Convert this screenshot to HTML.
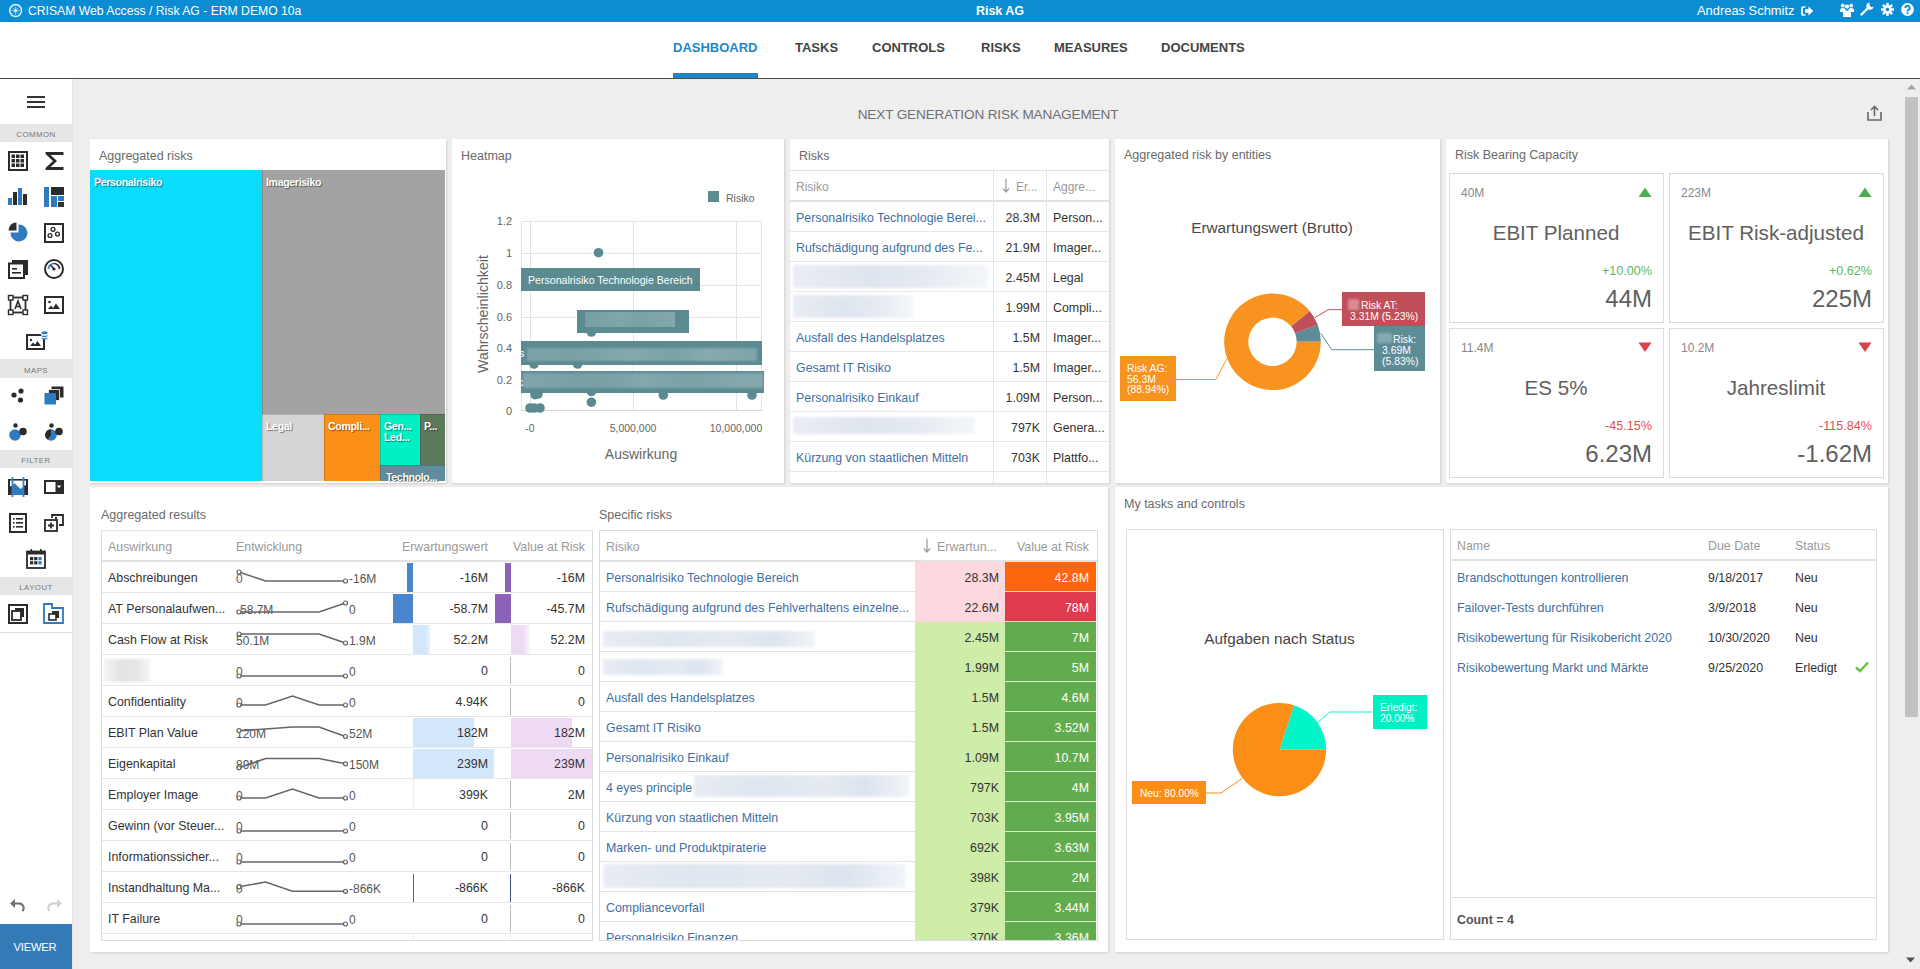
<!DOCTYPE html>
<html><head><meta charset="utf-8"><title>CRISAM Dashboard</title>
<style>
*{box-sizing:border-box;margin:0;padding:0}
html,body{width:1920px;height:969px;overflow:hidden;background:#eeeeee;font-family:"Liberation Sans",sans-serif;color:#333}
.a{position:absolute}
.t{position:absolute;white-space:nowrap;line-height:1}
svg{position:absolute;overflow:visible}
</style></head><body>
<div class="a" style="left:0px;top:0px;width:1920px;height:22px;background:#0b8cd3;"></div><svg style="left:8px;top:3px" width="15" height="15" viewBox="0 0 15 15"><circle cx="7.6" cy="7.5" r="5.9" fill="none" stroke="#e6f8ff" stroke-width="1.5"/><g stroke="#8fd6f2" stroke-width="0.9"><line x1="7.6" y1="3.2" x2="7.6" y2="11.8"/><line x1="3.3" y1="7.5" x2="11.9" y2="7.5"/><line x1="4.6" y1="4.5" x2="10.6" y2="10.5"/><line x1="10.6" y1="4.5" x2="4.6" y2="10.5"/></g><circle cx="7.6" cy="7.5" r="1.5" fill="#e6f8ff"/></svg><div class="t" style="left:28px;top:5.3px;font-size:12.2px;color:#fff;">CRISAM Web Access / Risk AG - ERM DEMO 10a</div><div class="t" style="left:500px;width:1000px;text-align:center;top:5.2px;font-size:12.5px;color:#fff;font-weight:bold;">Risk AG</div><div class="t" style="left:1697px;top:5.0px;font-size:12.9px;color:#fff;">Andreas Schmitz</div><svg style="left:1801px;top:6px" width="13" height="10" viewBox="0 0 13 10"><path d="M4.5 1H2A1 1 0 0 0 1 2V8A1 1 0 0 0 2 9H4.5" fill="none" stroke="#fff" stroke-width="1.7"/><path d="M4 3.3H7.5V0.5L12.3 5L7.5 9.5V6.7H4Z" fill="#fff"/></svg><svg style="left:1840px;top:3px" width="14" height="14" viewBox="0 0 14 14" fill="#fff"><circle cx="2.8" cy="2.6" r="1.9"/><circle cx="11.2" cy="2.6" r="1.9"/><circle cx="7" cy="3.6" r="2.1"/><path d="M0 7.5a2.8 2.5 0 0 1 5.6 0v1.5H0z"/><path d="M8.4 7.5a2.8 2.5 0 0 1 5.6 0v1.5H8.4z"/><path d="M3 10.5a4 3 0 0 1 8 0V14H3z"/></svg><svg style="left:1860px;top:1px" width="15" height="15" viewBox="0 0 15 15"><path d="M1.5 13.5L8.5 6.5" stroke="#fff" stroke-width="2.4" stroke-linecap="round"/><path d="M9.5 1.5a3.6 3.6 0 1 0 4 4l-2 0.8-1.6-1.2-0.4-2z" fill="#fff"/></svg><svg style="left:1881px;top:3px" width="13" height="13" viewBox="0 0 13 13" fill="#fff"><rect x="5.3" y="0" width="2.4" height="3.2" transform="rotate(0 6.5 6.5)"/><rect x="5.3" y="0" width="2.4" height="3.2" transform="rotate(45 6.5 6.5)"/><rect x="5.3" y="0" width="2.4" height="3.2" transform="rotate(90 6.5 6.5)"/><rect x="5.3" y="0" width="2.4" height="3.2" transform="rotate(135 6.5 6.5)"/><rect x="5.3" y="0" width="2.4" height="3.2" transform="rotate(180 6.5 6.5)"/><rect x="5.3" y="0" width="2.4" height="3.2" transform="rotate(225 6.5 6.5)"/><rect x="5.3" y="0" width="2.4" height="3.2" transform="rotate(270 6.5 6.5)"/><rect x="5.3" y="0" width="2.4" height="3.2" transform="rotate(315 6.5 6.5)"/><circle cx="6.5" cy="6.5" r="4.4"/><circle cx="6.5" cy="6.5" r="1.7" fill="#0b8cd3"/></svg><svg style="left:1901px;top:3px" width="13" height="13" viewBox="0 0 13 13"><circle cx="6.5" cy="6.5" r="6.4" fill="#fff"/><path d="M4.3 5a2.2 2.2 0 1 1 3 2c-0.6 0.3-0.8 0.6-0.8 1.2v0.3" fill="none" stroke="#0b8cd3" stroke-width="1.8"/><rect x="5.6" y="9.3" width="1.8" height="1.8" fill="#0b8cd3"/></svg><div class="a" style="left:0px;top:22px;width:1920px;height:56px;background:#fff;"></div><div class="a" style="left:0px;top:78px;width:1920px;height:1px;background:#4a4a4a;"></div><div class="t" style="left:673px;top:41.4px;font-size:13px;color:#1b87c9;font-weight:bold;">DASHBOARD</div><div class="t" style="left:795px;top:41.4px;font-size:13px;color:#444;font-weight:bold;">TASKS</div><div class="t" style="left:872px;top:41.4px;font-size:13px;color:#444;font-weight:bold;">CONTROLS</div><div class="t" style="left:981px;top:41.4px;font-size:13px;color:#444;font-weight:bold;">RISKS</div><div class="t" style="left:1054px;top:41.4px;font-size:13px;color:#444;font-weight:bold;">MEASURES</div><div class="t" style="left:1161px;top:41.4px;font-size:13px;color:#444;font-weight:bold;">DOCUMENTS</div><div class="a" style="left:673px;top:73px;width:85px;height:5px;background:#1b87c9;"></div><div class="t" style="left:488px;width:1000px;text-align:center;top:108.4px;font-size:13.6px;color:#707070;letter-spacing:-0.15px;">NEXT GENERATION RISK MANAGEMENT</div><svg style="left:1866px;top:104px" width="18" height="18" viewBox="0 0 18 18"><path d="M2 8V16H15V8" fill="none" stroke="#666" stroke-width="1.6"/><path d="M8.5 12V3" stroke="#666" stroke-width="1.6"/><path d="M5 6L8.5 2.5L12 6" fill="none" stroke="#666" stroke-width="1.6"/></svg><div class="a" style="left:1905px;top:79px;width:15px;height:890px;background:#eeeeee;"></div><div class="a" style="left:1905px;top:97px;width:13px;height:620px;background:#c1c1c1;"></div><svg style="left:1907px;top:84px" width="9" height="6" viewBox="0 0 9 6"><path d="M0 5.5L4.5 0.5L9 5.5Z" fill="#a3a3a3"/></svg><svg style="left:1906px;top:957px" width="9" height="6" viewBox="0 0 9 6"><path d="M0 0.5L4.5 5.5L9 0.5Z" fill="#505050"/></svg><div class="a" style="left:0px;top:79px;width:72px;height:890px;background:#fff;"></div><div class="a" style="left:72px;top:79px;width:1px;height:890px;background:#e4e4e4;"></div><div class="a" style="left:27px;top:95.5px;width:18px;height:2px;background:#333;"></div><div class="a" style="left:27px;top:100.5px;width:18px;height:2px;background:#333;"></div><div class="a" style="left:27px;top:105.5px;width:18px;height:2px;background:#333;"></div><div class="a" style="left:0px;top:124px;width:72px;height:18px;background:#e6e6e6;"></div><div class="t" style="left:-464px;width:1000px;text-align:center;top:131.0px;font-size:7.8px;color:#777;letter-spacing:0.5px;">COMMON</div><div class="a" style="left:0px;top:359px;width:72px;height:19px;background:#e6e6e6;"></div><div class="t" style="left:-464px;width:1000px;text-align:center;top:366.5px;font-size:7.8px;color:#777;letter-spacing:0.5px;">MAPS</div><div class="a" style="left:0px;top:450px;width:72px;height:18px;background:#e6e6e6;"></div><div class="t" style="left:-464px;width:1000px;text-align:center;top:457.0px;font-size:7.8px;color:#777;letter-spacing:0.5px;">FILTER</div><div class="a" style="left:0px;top:577px;width:72px;height:18px;background:#e6e6e6;"></div><div class="t" style="left:-464px;width:1000px;text-align:center;top:584.0px;font-size:7.8px;color:#777;letter-spacing:0.5px;">LAYOUT</div><svg style="left:8px;top:151px" width="20" height="20" viewBox="0 0 20 20"><rect x="1" y="1" width="18" height="18" fill="none" stroke="#2b2b2b" stroke-width="2"/><rect x="3.5" y="3.5" width="3.5" height="3.5" fill="#2b2b2b"/><rect x="3.5" y="8.0" width="3.5" height="3.5" fill="#2b2b2b"/><rect x="3.5" y="12.5" width="3.5" height="3.5" fill="#2b2b2b"/><rect x="8.0" y="3.5" width="3.5" height="3.5" fill="#2b2b2b"/><rect x="8.0" y="8.0" width="3.5" height="3.5" fill="#2b2b2b"/><rect x="8.0" y="12.5" width="3.5" height="3.5" fill="#2b2b2b"/><rect x="12.5" y="3.5" width="3.5" height="3.5" fill="#2b2b2b"/><rect x="12.5" y="8.0" width="3.5" height="3.5" fill="#2b2b2b"/><rect x="12.5" y="12.5" width="3.5" height="3.5" fill="#2b2b2b"/></svg><svg style="left:44px;top:151px" width="20" height="20" viewBox="0 0 20 20"><path d="M1.5 1H19.5V4H6.5L13 10L6.5 16H19.5V19H1.5V17L9 10L1.5 3Z" fill="#2b2b2b"/></svg><svg style="left:8px;top:188px" width="20" height="17" viewBox="0 0 20 17"><rect x="0" y="10" width="4" height="7" fill="#2f7bbf"/><rect x="5" y="4" width="4" height="13" fill="#2b2b2b"/><rect x="10" y="0" width="4" height="17" fill="#2f7bbf"/><rect x="15" y="6" width="4" height="11" fill="#2b2b2b"/></svg><svg style="left:44px;top:187px" width="20" height="20" viewBox="0 0 20 20"><rect x="0" y="0" width="5" height="20" fill="#2f7bbf"/><rect x="7" y="0" width="13" height="8" fill="#2b2b2b"/><rect x="7" y="9" width="6" height="11" fill="#2f7bbf"/><rect x="14" y="9" width="6" height="5" fill="#2f7bbf"/><rect x="14" y="15" width="6" height="5" fill="#333"/></svg><svg style="left:8px;top:222px" width="21" height="21" viewBox="0 0 21 21"><path d="M10.5 2.5A8.5 8.5 0 1 1 2.5 10.5H10.5Z" fill="#2f7bbf"/><path d="M8.5 0.5V8.5H0.5A8 8 0 0 1 8.5 0.5Z" fill="#2b2b2b"/></svg><svg style="left:44px;top:223px" width="20" height="20" viewBox="0 0 20 20"><rect x="1" y="1" width="18" height="18" fill="none" stroke="#2b2b2b" stroke-width="2"/><circle cx="9" cy="6.3" r="1.9" fill="none" stroke="#2b2b2b" stroke-width="1.4"/><circle cx="6" cy="12.5" r="1.9" fill="none" stroke="#2b2b2b" stroke-width="1.4"/><circle cx="13.5" cy="11" r="1.9" fill="none" stroke="#2b2b2b" stroke-width="1.4"/></svg><svg style="left:8px;top:260px" width="20" height="19" viewBox="0 0 20 19"><rect x="4" y="0" width="16" height="15" fill="#2b2b2b"/><rect x="1" y="3.5" width="15" height="14.5" fill="#fff" stroke="#2b2b2b" stroke-width="2"/><rect x="4" y="8" width="5" height="1.6" fill="#2b2b2b"/><rect x="4" y="12" width="9" height="1.6" fill="#2b2b2b"/></svg><svg style="left:44px;top:259px" width="20" height="20" viewBox="0 0 20 20"><circle cx="10" cy="10" r="9" fill="none" stroke="#2b2b2b" stroke-width="2"/><path d="M4.5 10A5.5 5.5 0 0 1 10 4.5" fill="none" stroke="#2f7bbf" stroke-width="1.6"/><path d="M10 4.5A5.5 5.5 0 0 1 15.5 10" fill="none" stroke="#2b2b2b" stroke-width="1.6"/><line x1="6.5" y1="6" x2="10" y2="10" stroke="#2b2b2b" stroke-width="1.5"/><circle cx="10" cy="10" r="1.6" fill="#2b2b2b"/></svg><svg style="left:8px;top:295px" width="20" height="20" viewBox="0 0 20 20"><rect x="2.5" y="2.5" width="15" height="15" fill="none" stroke="#2b2b2b" stroke-width="1.8"/><rect x="0.5" y="0.5" width="4.5" height="4.5" fill="#fff" stroke="#2b2b2b" stroke-width="1.4"/><rect x="15" y="0.5" width="4.5" height="4.5" fill="#fff" stroke="#2b2b2b" stroke-width="1.4"/><rect x="0.5" y="15" width="4.5" height="4.5" fill="#fff" stroke="#2b2b2b" stroke-width="1.4"/><rect x="15" y="15" width="4.5" height="4.5" fill="#fff" stroke="#2b2b2b" stroke-width="1.4"/><path d="M7 14L10 6L13 14M8 11.5H12" fill="none" stroke="#2b2b2b" stroke-width="1.6"/></svg><svg style="left:44px;top:296px" width="20" height="18" viewBox="0 0 20 18"><rect x="1" y="1" width="18" height="16" fill="none" stroke="#2b2b2b" stroke-width="2"/><circle cx="5.5" cy="6" r="1.3" fill="#2b2b2b"/><path d="M4 13L7 9.5L9 12L12 7.5L16 13Z" fill="#2b2b2b"/></svg><svg style="left:26px;top:331px" width="22" height="19" viewBox="0 0 22 19"><rect x="1" y="4" width="17" height="14" fill="none" stroke="#2b2b2b" stroke-width="2"/><rect x="15" y="2" width="7" height="6" fill="#fff"/><circle cx="5" cy="9" r="1.2" fill="#2b2b2b"/><path d="M4 15L7 11.5L9 13.5L11.5 10L15 15Z" fill="#2b2b2b"/><ellipse cx="18.5" cy="1.8" rx="3" ry="1.5" fill="#2f7bbf"/><path d="M15.5 3.2V4.5A3 1.5 0 0 0 21.5 4.5V3.2A3 1.5 0 0 1 15.5 3.2Z" fill="#2f7bbf"/><path d="M15.5 5.7V7A3 1.5 0 0 0 21.5 7V5.7A3 1.5 0 0 1 15.5 5.7Z" fill="#2f7bbf"/></svg><svg style="left:11px;top:388px" width="14" height="15" viewBox="0 0 14 15"><circle cx="3" cy="7" r="2.6" fill="#2b2b2b"/><circle cx="10" cy="3" r="2.6" fill="#2b2b2b"/><circle cx="9.5" cy="12" r="2.6" fill="#2b2b2b"/></svg><svg style="left:44px;top:386px" width="20" height="19" viewBox="0 0 20 19"><rect x="7.5" y="0.5" width="12" height="11" fill="#2b2b2b"/><rect x="4.5" y="3.5" width="11" height="11" fill="#2b2b2b" stroke="#fff" stroke-width="0.8"/><rect x="0.5" y="7" width="11.5" height="11.5" fill="#2f7bbf"/></svg><svg style="left:8px;top:423px" width="20" height="18" viewBox="0 0 20 18"><circle cx="7" cy="12" r="5.8" fill="#2f7bbf"/><circle cx="7.5" cy="2.5" r="2.2" fill="#2b2b2b"/><circle cx="15" cy="8.5" r="3.8" fill="#2b2b2b"/></svg><svg style="left:44px;top:423px" width="20" height="18" viewBox="0 0 20 18"><circle cx="7" cy="12" r="5.8" fill="#2f7bbf"/><path d="M7 12L7 6.2A5.8 5.8 0 0 0 3.5 16.6Z" fill="#2b2b2b"/><circle cx="7.5" cy="2.5" r="2.2" fill="#2b2b2b"/><circle cx="15" cy="8.5" r="3.8" fill="#2b2b2b"/></svg><svg style="left:8px;top:477px" width="20" height="20" viewBox="0 0 20 20"><rect x="0" y="2" width="20" height="16" fill="#2b2b2b"/><rect x="2" y="3.6" width="16" height="12.5" fill="#fff"/><path d="M2 9.5L4.5 8.5V16H2Z" fill="#2b2b2b"/><path d="M15.5 9L18 8V16H15.5Z" fill="#2b2b2b"/><path d="M4.5 7L7 6.5L12.5 12L15.5 9.5V18H4.5Z" fill="#2f7bbf"/><rect x="3.6" y="0" width="1.8" height="20" fill="#3a7fc0"/><rect x="14.6" y="0" width="1.8" height="20" fill="#3a7fc0"/></svg><svg style="left:44px;top:480px" width="20" height="14" viewBox="0 0 20 14"><rect x="1" y="1" width="18" height="12" fill="#fff" stroke="#2b2b2b" stroke-width="2"/><rect x="11.5" y="2" width="7" height="10" fill="#2b2b2b"/><path d="M12.8 5.5H17.2L15 8.3Z" fill="#fff"/></svg><div class="a" style="left:0px;top:632px;width:72px;height:1px;background:#dddddd;"></div><svg style="left:9px;top:513px" width="19" height="20" viewBox="0 0 19 20"><rect x="1" y="1" width="16" height="18" fill="none" stroke="#2b2b2b" stroke-width="2"/><rect x="4" y="5" width="1.6" height="1.6" fill="#2b2b2b"/><rect x="7" y="5" width="7" height="1.6" fill="#2b2b2b"/><rect x="4" y="9" width="1.6" height="1.6" fill="#2b2b2b"/><rect x="7" y="9" width="7" height="1.6" fill="#2b2b2b"/><rect x="4" y="13" width="1.6" height="1.6" fill="#2b2b2b"/><rect x="7" y="13" width="7" height="1.6" fill="#2b2b2b"/></svg><svg style="left:44px;top:514px" width="20" height="18" viewBox="0 0 20 18"><path d="M8 4V1H19V11H15" fill="none" stroke="#2b2b2b" stroke-width="1.8"/><rect x="11" y="3" width="2" height="2" fill="#2b2b2b"/><rect x="1" y="6" width="12" height="11" fill="#fff" stroke="#2b2b2b" stroke-width="1.8"/><path d="M7 8.5V14.5M4 11.5H10" stroke="#2b2b2b" stroke-width="1.8"/></svg><svg style="left:26px;top:549px" width="20" height="20" viewBox="0 0 20 20"><rect x="1" y="2.5" width="18" height="16.5" fill="none" stroke="#2b2b2b" stroke-width="1.8"/><rect x="1" y="2.5" width="18" height="3" fill="#2b2b2b"/><rect x="4.5" y="0" width="1.6" height="4" fill="#2b2b2b"/><rect x="14" y="0" width="1.6" height="4" fill="#2b2b2b"/><rect x="4.0" y="8.0" width="3.2" height="3.2" fill="#2b2b2b"/><rect x="4.0" y="12.2" width="3.2" height="3.2" fill="#2b2b2b"/><rect x="8.2" y="8.0" width="3.2" height="3.2" fill="#2b2b2b"/><rect x="8.2" y="12.2" width="3.2" height="3.2" fill="#2b2b2b"/><rect x="12.4" y="8.0" width="3.2" height="3.2" fill="#2f7bbf"/><rect x="12.4" y="12.2" width="3.2" height="3.2" fill="#2f7bbf"/></svg><svg style="left:8px;top:604px" width="20" height="20" viewBox="0 0 20 20"><rect x="1" y="1" width="18" height="18" fill="none" stroke="#2b2b2b" stroke-width="2"/><rect x="7" y="4" width="9" height="9" fill="#2b2b2b"/><rect x="4" y="7" width="9" height="9" fill="#fff" stroke="#2b2b2b" stroke-width="1.8"/></svg><svg style="left:43px;top:603px" width="21" height="21" viewBox="0 0 21 21"><path d="M1 1H9V5H20V20H1Z" fill="none" stroke="#2f7bbf" stroke-width="1.8"/><rect x="9" y="8" width="7" height="7" fill="#2b2b2b"/><rect x="6" y="11" width="7" height="6" fill="#fff" stroke="#2b2b2b" stroke-width="1.6"/></svg><svg style="left:10px;top:898px" width="16" height="14" viewBox="0 0 16 14"><path d="M4 5.5H9.5A4.5 4.5 0 0 1 12.5 13" fill="none" stroke="#6f6f6f" stroke-width="2"/><path d="M0 5.5L5 1V10Z" fill="#6f6f6f"/></svg><svg style="left:46px;top:898px" width="16" height="14" viewBox="0 0 16 14"><path d="M12 5.5H6.5A4.5 4.5 0 0 0 3.5 13" fill="none" stroke="#d0d0d0" stroke-width="2"/><path d="M16 5.5L11 1V10Z" fill="#d0d0d0"/></svg><div class="a" style="left:0px;top:924px;width:72px;height:45px;background:#337ab7;"></div><div class="t" style="left:-465px;width:1000px;text-align:center;top:942.3px;font-size:11.2px;color:#fff;letter-spacing:-0.2px;">VIEWER</div><div class="a" style="left:90px;top:139px;width:356px;height:344px;background:#fff;box-shadow:1px 1px 2px rgba(0,0,0,0.13)"></div><div class="a" style="left:452px;top:139px;width:332px;height:344px;background:#fff;box-shadow:1px 1px 2px rgba(0,0,0,0.13)"></div><div class="a" style="left:790px;top:139px;width:319px;height:344px;background:#fff;box-shadow:1px 1px 2px rgba(0,0,0,0.13)"></div><div class="a" style="left:1115px;top:139px;width:325px;height:344px;background:#fff;box-shadow:1px 1px 2px rgba(0,0,0,0.13)"></div><div class="a" style="left:1446px;top:139px;width:442px;height:344px;background:#fff;box-shadow:1px 1px 2px rgba(0,0,0,0.13)"></div><div class="a" style="left:90px;top:487px;width:1018px;height:465px;background:#fff;box-shadow:1px 1px 2px rgba(0,0,0,0.13)"></div><div class="a" style="left:1115px;top:487px;width:773px;height:465px;background:#fff;box-shadow:1px 1px 2px rgba(0,0,0,0.13)"></div><div class="t" style="left:99px;top:149.7px;font-size:12.5px;color:#6a6a6a;">Aggregated risks</div><div class="t" style="left:461px;top:149.7px;font-size:12.5px;color:#6a6a6a;">Heatmap</div><div class="t" style="left:799px;top:149.7px;font-size:12.5px;color:#6a6a6a;">Risks</div><div class="t" style="left:1124px;top:148.7px;font-size:12.5px;color:#6a6a6a;">Aggregated risk by entities</div><div class="t" style="left:1455px;top:148.7px;font-size:12.5px;color:#6a6a6a;">Risk Bearing Capacity</div><div class="t" style="left:101px;top:508.7px;font-size:12.5px;color:#6a6a6a;">Aggregated results</div><div class="t" style="left:599px;top:508.7px;font-size:12.5px;color:#6a6a6a;">Specific risks</div><div class="t" style="left:1124px;top:497.7px;font-size:12.5px;color:#6a6a6a;">My tasks and controls</div><div class="a" style="left:90px;top:170px;width:172px;height:311px;background:#0cdcfb;"></div><div class="a" style="left:262px;top:170px;width:183px;height:244px;background:#a3a3a3;"></div><div class="a" style="left:262px;top:414px;width:62px;height:67px;background:#d5d5d5;"></div><div class="a" style="left:324px;top:414px;width:56px;height:67px;background:#fb8f17;"></div><div class="a" style="left:380px;top:414px;width:40px;height:51px;background:#00f0c6;"></div><div class="a" style="left:420px;top:414px;width:25px;height:51px;background:#5b7a5c;"></div><div class="a" style="left:380px;top:465px;width:65px;height:16px;background:#5f8d9c;"></div><div class="a" style="left:445px;top:170px;width:1px;height:311px;background:#fff;"></div><div class="a" style="left:262px;top:170px;width:1px;height:311px;background:rgba(0,0,0,0.16);"></div><div class="a" style="left:262px;top:414px;width:183px;height:1px;background:rgba(0,0,0,0.16);"></div><div class="a" style="left:324px;top:414px;width:1px;height:67px;background:rgba(0,0,0,0.16);"></div><div class="a" style="left:380px;top:414px;width:1px;height:67px;background:rgba(0,0,0,0.16);"></div><div class="a" style="left:420px;top:414px;width:1px;height:51px;background:rgba(0,0,0,0.16);"></div><div class="a" style="left:380px;top:465px;width:65px;height:1px;background:rgba(0,0,0,0.16);"></div><div class="t" style="left:94px;top:176.9px;font-size:10.5px;color:#fff;font-weight:bold;text-shadow:1px 1px 1px rgba(0,0,0,0.45);letter-spacing:-0.3px;">Personalrisiko</div><div class="t" style="left:266px;top:176.9px;font-size:10.5px;color:#fff;font-weight:bold;text-shadow:1px 1px 1px rgba(0,0,0,0.45);letter-spacing:-0.3px;">Imagerisiko</div><div class="t" style="left:266px;top:420.9px;font-size:10.5px;color:#fff;font-weight:bold;text-shadow:1px 1px 1px rgba(0,0,0,0.45);letter-spacing:-0.3px;">Legal</div><div class="t" style="left:328px;top:420.9px;font-size:10.5px;color:#fff;font-weight:bold;text-shadow:1px 1px 1px rgba(0,0,0,0.45);letter-spacing:-0.3px;">Compli...</div><div class="t" style="left:384px;top:420.9px;font-size:10.5px;color:#fff;font-weight:bold;text-shadow:1px 1px 1px rgba(0,0,0,0.45);letter-spacing:-0.3px;">Gen...</div><div class="t" style="left:384px;top:431.9px;font-size:10.5px;color:#fff;font-weight:bold;text-shadow:1px 1px 1px rgba(0,0,0,0.45);letter-spacing:-0.3px;">Led...</div><div class="t" style="left:424px;top:420.9px;font-size:10.5px;color:#fff;font-weight:bold;text-shadow:1px 1px 1px rgba(0,0,0,0.45);letter-spacing:-0.3px;">P...</div><div class="t" style="left:386px;top:471.9px;font-size:10.5px;color:#fff;font-weight:bold;text-shadow:1px 1px 1px rgba(0,0,0,0.45);letter-spacing:-0.3px;">Technolo...</div><div class="a" style="left:708px;top:191px;width:11px;height:11px;background:#5d8c8f;"></div><div class="t" style="left:726px;top:192.7px;font-size:10.5px;color:#666;">Risiko</div><div class="a" style="left:521px;top:221px;width:241px;height:1px;background:#e3e3e3;"></div><div class="a" style="left:521px;top:253px;width:241px;height:1px;background:#e3e3e3;"></div><div class="a" style="left:521px;top:285px;width:241px;height:1px;background:#e3e3e3;"></div><div class="a" style="left:521px;top:317px;width:241px;height:1px;background:#e3e3e3;"></div><div class="a" style="left:521px;top:348px;width:241px;height:1px;background:#e3e3e3;"></div><div class="a" style="left:521px;top:380px;width:241px;height:1px;background:#e3e3e3;"></div><div class="a" style="left:521px;top:221px;width:1px;height:190px;background:#e3e3e3;"></div><div class="a" style="left:530px;top:221px;width:1px;height:190px;background:#e3e3e3;"></div><div class="a" style="left:633px;top:221px;width:1px;height:190px;background:#e3e3e3;"></div><div class="a" style="left:736px;top:221px;width:1px;height:190px;background:#e3e3e3;"></div><div class="a" style="left:761px;top:221px;width:1px;height:190px;background:#e3e3e3;"></div><div class="a" style="left:521px;top:410px;width:241px;height:1px;background:#d6d6d6;"></div><div class="t" style="left:-488px;width:1000px;text-align:right;top:216.4px;font-size:11px;color:#666;">1.2</div><div class="t" style="left:-488px;width:1000px;text-align:right;top:248.4px;font-size:11px;color:#666;">1</div><div class="t" style="left:-488px;width:1000px;text-align:right;top:280.4px;font-size:11px;color:#666;">0.8</div><div class="t" style="left:-488px;width:1000px;text-align:right;top:312.4px;font-size:11px;color:#666;">0.6</div><div class="t" style="left:-488px;width:1000px;text-align:right;top:343.4px;font-size:11px;color:#666;">0.4</div><div class="t" style="left:-488px;width:1000px;text-align:right;top:375.4px;font-size:11px;color:#666;">0.2</div><div class="t" style="left:-488px;width:1000px;text-align:right;top:406.4px;font-size:11px;color:#666;">0</div><div class="t" style="left:30px;width:1000px;text-align:center;top:422.5px;font-size:10.5px;color:#666;">-0</div><div class="t" style="left:133px;width:1000px;text-align:center;top:422.5px;font-size:10.5px;color:#666;">5,000,000</div><div class="t" style="left:236px;width:1000px;text-align:center;top:422.5px;font-size:10.5px;color:#666;">10,000,000</div><div class="t" style="left:141px;width:1000px;text-align:center;top:446.9px;font-size:14px;color:#666;">Auswirkung</div><div class="t" style="left:383px;top:307px;width:200px;text-align:center;font-size:14.2px;color:#666;transform:rotate(-90deg);transform-origin:100px 7px">Wahrscheinlichkeit</div><svg style="left:0;top:0" width="1920" height="969"><circle cx="598.5" cy="252.7" r="4.8" fill="#5b8a91"/><circle cx="591.4" cy="332" r="4.8" fill="#5b8a91"/><circle cx="534" cy="364" r="4.8" fill="#5b8a91"/><circle cx="577.6" cy="364" r="4.8" fill="#5b8a91"/><circle cx="535" cy="394.6" r="4.8" fill="#5b8a91"/><circle cx="538" cy="394" r="4.8" fill="#5b8a91"/><circle cx="591.4" cy="391.5" r="4.8" fill="#5b8a91"/><circle cx="591.4" cy="402.2" r="4.8" fill="#5b8a91"/><circle cx="663.3" cy="395" r="4.8" fill="#5b8a91"/><circle cx="752" cy="395" r="4.8" fill="#5b8a91"/><circle cx="530" cy="408" r="4.8" fill="#5b8a91"/><circle cx="534" cy="408" r="4.8" fill="#5b8a91"/><circle cx="540" cy="408" r="4.8" fill="#5b8a91"/></svg><div class="a" style="left:521px;top:268px;width:179px;height:23px;background:#5b8a91;"></div><div class="t" style="left:528px;top:274.6px;font-size:10.6px;color:#fff;">Personalrisiko Technologie Bereich</div><div class="a" style="left:577px;top:310px;width:112px;height:23px;background:#5b8a91;"></div><div class="a" style="left:585px;top:312px;width:90px;height:15px;background:linear-gradient(90deg,#789fa5,#80a6ac 40%,#7aa1a7 60%,#83a8ae);filter:blur(0.6px);"></div><div class="a" style="left:521px;top:341px;width:241px;height:24px;background:#5b8a91;"></div><div class="a" style="left:527px;top:348px;width:230px;height:13px;background:linear-gradient(90deg,#7ea4aa,#7aa1a7 20%,#84a8ae 45%,#7ba2a8 65%,#87aab0 80%,#7da3a9);filter:blur(1px);"></div><div class="a" style="left:521px;top:371px;width:243px;height:22px;background:#5b8a91;"></div><div class="a" style="left:523px;top:373px;width:240px;height:15px;background:linear-gradient(90deg,#80a5ab,#789fa5 30%,#82a7ad 50%,#7ba2a8 70%,#86a9af);filter:blur(1px);"></div><div class="a" style="left:521px;top:341px;width:8px;height:60px;overflow:hidden"><div class="t" style="left:-2px;top:7px;font-size:11px;color:#fff">s</div><div class="t" style="left:-3px;top:36px;font-size:11px;color:#fff">c</div></div><div class="a" style="left:790px;top:170px;width:319px;height:1px;background:#e2e2e2;"></div><div class="a" style="left:790px;top:200px;width:319px;height:2px;background:#e2e2e2;"></div><div class="a" style="left:993px;top:171px;width:1px;height:312px;background:#e6e6e6;"></div><div class="a" style="left:1046px;top:171px;width:1px;height:312px;background:#e6e6e6;"></div><div class="t" style="left:796px;top:180.9px;font-size:12px;color:#9a9a9a;">Risiko</div><svg style="left:1002px;top:178px" width="8" height="15" viewBox="0 0 8 15"><path d="M4 0.5V13.5M1 10.5L4 14L7 10.5" fill="none" stroke="#9a9a9a" stroke-width="1.2"/></svg><div class="t" style="left:1016px;top:180.9px;font-size:12px;color:#9a9a9a;">Er...</div><div class="t" style="left:1053px;top:180.9px;font-size:12px;color:#9a9a9a;">Aggre...</div><div class="a" style="left:790px;top:231px;width:319px;height:1px;background:#e8e8e8;"></div><div class="t" style="left:796px;top:211.7px;font-size:12.4px;color:#3f6fa3;">Personalrisiko Technologie Berei...</div><div class="t" style="left:40px;width:1000px;text-align:right;top:211.7px;font-size:12.4px;color:#333;">28.3M</div><div class="t" style="left:1053px;top:211.7px;font-size:12.4px;color:#333;">Person...</div><div class="a" style="left:790px;top:261px;width:319px;height:1px;background:#e8e8e8;"></div><div class="t" style="left:796px;top:241.7px;font-size:12.4px;color:#3f6fa3;">Rufschädigung aufgrund des Fe...</div><div class="t" style="left:40px;width:1000px;text-align:right;top:241.7px;font-size:12.4px;color:#333;">21.9M</div><div class="t" style="left:1053px;top:241.7px;font-size:12.4px;color:#333;">Imager...</div><div class="a" style="left:790px;top:291px;width:319px;height:1px;background:#e8e8e8;"></div><div class="a" style="left:793px;top:265px;width:195px;height:23px;background:linear-gradient(90deg,#e9edf3,#dfe5ee 40%,#e6ebf2 70%,#f4f6f9);filter:blur(1.5px);"></div><div class="t" style="left:40px;width:1000px;text-align:right;top:271.7px;font-size:12.4px;color:#333;">2.45M</div><div class="t" style="left:1053px;top:271.7px;font-size:12.4px;color:#333;">Legal</div><div class="a" style="left:790px;top:321px;width:319px;height:1px;background:#e8e8e8;"></div><div class="a" style="left:793px;top:295px;width:120px;height:23px;background:linear-gradient(90deg,#e9edf3,#dfe5ee 40%,#e6ebf2 70%,#f4f6f9);filter:blur(1.5px);"></div><div class="t" style="left:40px;width:1000px;text-align:right;top:301.7px;font-size:12.4px;color:#333;">1.99M</div><div class="t" style="left:1053px;top:301.7px;font-size:12.4px;color:#333;">Compli...</div><div class="a" style="left:790px;top:351px;width:319px;height:1px;background:#e8e8e8;"></div><div class="t" style="left:796px;top:331.7px;font-size:12.4px;color:#3f6fa3;">Ausfall des Handelsplatzes</div><div class="t" style="left:40px;width:1000px;text-align:right;top:331.7px;font-size:12.4px;color:#333;">1.5M</div><div class="t" style="left:1053px;top:331.7px;font-size:12.4px;color:#333;">Imager...</div><div class="a" style="left:790px;top:381px;width:319px;height:1px;background:#e8e8e8;"></div><div class="t" style="left:796px;top:361.7px;font-size:12.4px;color:#3f6fa3;">Gesamt IT Risiko</div><div class="t" style="left:40px;width:1000px;text-align:right;top:361.7px;font-size:12.4px;color:#333;">1.5M</div><div class="t" style="left:1053px;top:361.7px;font-size:12.4px;color:#333;">Imager...</div><div class="a" style="left:790px;top:411px;width:319px;height:1px;background:#e8e8e8;"></div><div class="t" style="left:796px;top:391.7px;font-size:12.4px;color:#3f6fa3;">Personalrisiko Einkauf</div><div class="t" style="left:40px;width:1000px;text-align:right;top:391.7px;font-size:12.4px;color:#333;">1.09M</div><div class="t" style="left:1053px;top:391.7px;font-size:12.4px;color:#333;">Person...</div><div class="a" style="left:790px;top:441px;width:319px;height:1px;background:#e8e8e8;"></div><div class="a" style="left:793px;top:417px;width:182px;height:17px;background:linear-gradient(90deg,#e9edf3,#dfe5ee 40%,#e6ebf2 70%,#f4f6f9);filter:blur(1.5px);"></div><div class="t" style="left:40px;width:1000px;text-align:right;top:421.7px;font-size:12.4px;color:#333;">797K</div><div class="t" style="left:1053px;top:421.7px;font-size:12.4px;color:#333;">Genera...</div><div class="a" style="left:790px;top:471px;width:319px;height:1px;background:#e8e8e8;"></div><div class="t" style="left:796px;top:451.7px;font-size:12.4px;color:#3f6fa3;">Kürzung von staatlichen Mitteln</div><div class="t" style="left:40px;width:1000px;text-align:right;top:451.7px;font-size:12.4px;color:#333;">703K</div><div class="t" style="left:1053px;top:451.7px;font-size:12.4px;color:#333;">Plattfo...</div><div class="t" style="left:772px;width:1000px;text-align:center;top:219.5px;font-size:15.3px;color:#484848;">Erwartungswert (Brutto)</div><svg style="left:0;top:0" width="1920" height="969"><path d="M1320.80 341.80A48.3 48.3 0 0 0 1317.62 324.57L1295.11 333.17A24.2 24.2 0 0 1 1296.70 341.80Z" fill="#5d8b96"/><path d="M1317.62 324.57A48.3 48.3 0 0 0 1309.66 310.95L1291.12 326.34A24.2 24.2 0 0 1 1295.11 333.17Z" fill="#c14f5a"/><path d="M1309.66 310.95A48.3 48.3 0 1 0 1320.80 341.80L1296.70 341.80A24.2 24.2 0 1 1 1291.12 326.34Z" fill="#f7931e"/><polyline points="1176,379.5 1215.8,379.5 1226.7,359.2" fill="none" stroke="#f7931e" stroke-width="1"/><polyline points="1315,317.5 1328.3,309.7 1342,309.7" fill="none" stroke="#c14f5a" stroke-width="1"/><polyline points="1320.8,333.3 1331.7,349.7 1374,349.7" fill="none" stroke="#5d8b96" stroke-width="1"/></svg><div class="a" style="left:1120px;top:356px;width:56px;height:45px;background:#f7931e;"></div><div class="a" style="left:1342px;top:292px;width:83px;height:34px;background:#c14f5a;"></div><div class="a" style="left:1374px;top:326px;width:51px;height:45px;background:#5d8b96;"></div><div class="t" style="left:1127px;top:364.2px;font-size:10.4px;color:#fff;">Risk AG:</div><div class="t" style="left:1127px;top:374.7px;font-size:10.4px;color:#fff;">56.3M</div><div class="t" style="left:1127px;top:385.2px;font-size:10.4px;color:#fff;">(88.94%)</div><div class="a" style="left:1348px;top:299px;width:11px;height:11px;background:#d98a90;filter:blur(0.8px);"></div><div class="t" style="left:1361px;top:301.0px;font-size:10.4px;color:#fff;">Risk AT:</div><div class="t" style="left:1350px;top:312.0px;font-size:10.4px;color:#fff;">3.31M (5.23%)</div><div class="a" style="left:1377px;top:333px;width:15px;height:10px;background:#86a9b1;filter:blur(0.8px);"></div><div class="t" style="left:1393px;top:335.0px;font-size:10.4px;color:#fff;">Risk:</div><div class="t" style="left:1382px;top:346.0px;font-size:10.4px;color:#fff;">3.69M</div><div class="t" style="left:1382px;top:356.5px;font-size:10.4px;color:#fff;">(5.83%)</div><div class="a" style="left:1449px;top:173px;width:215px;height:150px;border:1px solid #dcdcdc"></div><div class="t" style="left:1461px;top:187.4px;font-size:12px;color:#888;">40M</div><svg style="left:1638px;top:186.5px" width="14" height="11" viewBox="0 0 14 11"><path d="M0.5 10L7 0.5L13.5 10Z" fill="#4cae4f"/></svg><div class="t" style="left:1056px;width:1000px;text-align:center;top:223.2px;font-size:20.6px;color:#606060;">EBIT Planned</div><div class="t" style="left:652px;width:1000px;text-align:right;top:265.1px;font-size:12.6px;color:#5cb85c;">+10.00%</div><div class="t" style="left:652px;width:1000px;text-align:right;top:286.5px;font-size:24px;color:#606060;">44M</div><div class="a" style="left:1669px;top:173px;width:215px;height:150px;border:1px solid #dcdcdc"></div><div class="t" style="left:1681px;top:187.4px;font-size:12px;color:#888;">223M</div><svg style="left:1858px;top:186.5px" width="14" height="11" viewBox="0 0 14 11"><path d="M0.5 10L7 0.5L13.5 10Z" fill="#4cae4f"/></svg><div class="t" style="left:1276px;width:1000px;text-align:center;top:223.2px;font-size:20.6px;color:#606060;">EBIT Risk-adjusted</div><div class="t" style="left:872px;width:1000px;text-align:right;top:265.1px;font-size:12.6px;color:#5cb85c;">+0.62%</div><div class="t" style="left:872px;width:1000px;text-align:right;top:286.5px;font-size:24px;color:#606060;">225M</div><div class="a" style="left:1449px;top:328px;width:215px;height:150px;border:1px solid #dcdcdc"></div><div class="t" style="left:1461px;top:342.4px;font-size:12px;color:#888;">11.4M</div><svg style="left:1638px;top:341.5px" width="14" height="11" viewBox="0 0 14 11"><path d="M0.5 0.5L7 10L13.5 0.5Z" fill="#d9434a"/></svg><div class="t" style="left:1056px;width:1000px;text-align:center;top:378.2px;font-size:20.6px;color:#606060;">ES 5%</div><div class="t" style="left:652px;width:1000px;text-align:right;top:420.1px;font-size:12.6px;color:#d9534f;">-45.15%</div><div class="t" style="left:652px;width:1000px;text-align:right;top:441.5px;font-size:24px;color:#606060;">6.23M</div><div class="a" style="left:1669px;top:328px;width:215px;height:150px;border:1px solid #dcdcdc"></div><div class="t" style="left:1681px;top:342.4px;font-size:12px;color:#888;">10.2M</div><svg style="left:1858px;top:341.5px" width="14" height="11" viewBox="0 0 14 11"><path d="M0.5 0.5L7 10L13.5 0.5Z" fill="#d9434a"/></svg><div class="t" style="left:1276px;width:1000px;text-align:center;top:378.2px;font-size:20.6px;color:#606060;">Jahreslimit</div><div class="t" style="left:872px;width:1000px;text-align:right;top:420.1px;font-size:12.6px;color:#d9534f;">-115.84%</div><div class="t" style="left:872px;width:1000px;text-align:right;top:441.5px;font-size:24px;color:#606060;">-1.62M</div><div class="a" style="left:101px;top:530px;width:492px;height:411px;border:1px solid #dcdcdc;border-top-color:#e3e3e3"></div><div class="a" style="left:102px;top:560px;width:490px;height:2px;background:#e2e2e2;"></div><div class="t" style="left:108px;top:540.7px;font-size:12.4px;color:#9a9a9a;">Auswirkung</div><div class="t" style="left:236px;top:540.7px;font-size:12.4px;color:#9a9a9a;">Entwicklung</div><div class="t" style="left:-512px;width:1000px;text-align:right;top:540.7px;font-size:12.4px;color:#9a9a9a;">Erwartungswert</div><div class="t" style="left:-415px;width:1000px;text-align:right;top:540.7px;font-size:12.4px;color:#9a9a9a;">Value at Risk</div><div class="a" style="left:407px;top:563px;width:6px;height:29px;background:#4a86cf;"></div><div class="a" style="left:505px;top:563px;width:6px;height:29px;background:#8c62b7;"></div><div class="a" style="left:393px;top:594px;width:20px;height:29px;background:#4a86cf;"></div><div class="a" style="left:495px;top:594px;width:16px;height:29px;background:#8c62b7;"></div><div class="a" style="left:413px;top:625px;width:17px;height:29px;background:linear-gradient(90deg,#d3e7fa 75%,#e9f3fc);"></div><div class="a" style="left:511px;top:625px;width:19px;height:29px;background:linear-gradient(90deg,#efdaf5 60%,#fbf5fd);"></div><div class="a" style="left:413px;top:718px;width:61px;height:29px;background:#d3e7fa;"></div><div class="a" style="left:511px;top:718px;width:61px;height:29px;background:#efdaf5;"></div><div class="a" style="left:413px;top:749px;width:81px;height:29px;background:#d3e7fa;"></div><div class="a" style="left:511px;top:749px;width:81px;height:29px;background:#efdaf5;"></div><div class="a" style="left:510px;top:657px;width:1px;height:27px;background:#bdbdbd;"></div><div class="a" style="left:510px;top:688px;width:1px;height:27px;background:#bdbdbd;"></div><div class="a" style="left:510px;top:812px;width:1px;height:27px;background:#bdbdbd;"></div><div class="a" style="left:510px;top:843px;width:1px;height:27px;background:#bdbdbd;"></div><div class="a" style="left:510px;top:905px;width:1px;height:27px;background:#bdbdbd;"></div><div class="a" style="left:413px;top:779px;width:1px;height:30px;background:#e4eef8;"></div><div class="a" style="left:510px;top:781px;width:1px;height:27px;background:#bdbdbd;"></div><div class="a" style="left:413px;top:874px;width:1px;height:29px;background:#3f6aa8;"></div><div class="a" style="left:510px;top:874px;width:1px;height:29px;background:#3f4f7a;"></div><div class="a" style="left:413px;top:934px;width:1px;height:7px;background:#e8e8e8;"></div><div class="a" style="left:510px;top:934px;width:1px;height:7px;background:#e8e8e8;"></div><div class="a" style="left:102px;top:592px;width:490px;height:1px;background:#e6e6e6;"></div><div class="t" style="left:108px;top:571.7px;font-size:12.4px;color:#333;">Abschreibungen</div><div class="t" style="left:236px;top:572.9px;font-size:12px;color:#555;">0</div><div class="t" style="left:349px;top:572.9px;font-size:12px;color:#555;">-16M</div><div class="t" style="left:-512px;width:1000px;text-align:right;top:571.7px;font-size:12.4px;color:#333;">-16M</div><div class="t" style="left:-415px;width:1000px;text-align:right;top:571.7px;font-size:12.4px;color:#333;">-16M</div><div class="a" style="left:102px;top:623px;width:490px;height:1px;background:#e6e6e6;"></div><div class="t" style="left:108px;top:602.7px;font-size:12.4px;color:#333;">AT Personalaufwen...</div><div class="t" style="left:236px;top:603.9px;font-size:12px;color:#555;">-58.7M</div><div class="t" style="left:349px;top:603.9px;font-size:12px;color:#555;">0</div><div class="t" style="left:-512px;width:1000px;text-align:right;top:602.7px;font-size:12.4px;color:#333;">-58.7M</div><div class="t" style="left:-415px;width:1000px;text-align:right;top:602.7px;font-size:12.4px;color:#333;">-45.7M</div><div class="a" style="left:102px;top:654px;width:490px;height:1px;background:#e6e6e6;"></div><div class="t" style="left:108px;top:633.7px;font-size:12.4px;color:#333;">Cash Flow at Risk</div><div class="t" style="left:236px;top:634.9px;font-size:12px;color:#555;">50.1M</div><div class="t" style="left:349px;top:634.9px;font-size:12px;color:#555;">1.9M</div><div class="t" style="left:-512px;width:1000px;text-align:right;top:633.7px;font-size:12.4px;color:#333;">52.2M</div><div class="t" style="left:-415px;width:1000px;text-align:right;top:633.7px;font-size:12.4px;color:#333;">52.2M</div><div class="a" style="left:102px;top:685px;width:490px;height:1px;background:#e6e6e6;"></div><div class="a" style="left:104px;top:659px;width:46px;height:23px;background:linear-gradient(90deg,#f3f3f3,#e3e3e3 40%,#e6e6e6 70%,#f4f4f4);filter:blur(1.2px);"></div><div class="t" style="left:236px;top:665.9px;font-size:12px;color:#555;">0</div><div class="t" style="left:349px;top:665.9px;font-size:12px;color:#555;">0</div><div class="t" style="left:-512px;width:1000px;text-align:right;top:664.7px;font-size:12.4px;color:#333;">0</div><div class="t" style="left:-415px;width:1000px;text-align:right;top:664.7px;font-size:12.4px;color:#333;">0</div><div class="a" style="left:102px;top:716px;width:490px;height:1px;background:#e6e6e6;"></div><div class="t" style="left:108px;top:695.7px;font-size:12.4px;color:#333;">Confidentiality</div><div class="t" style="left:236px;top:696.9px;font-size:12px;color:#555;">0</div><div class="t" style="left:349px;top:696.9px;font-size:12px;color:#555;">0</div><div class="t" style="left:-512px;width:1000px;text-align:right;top:695.7px;font-size:12.4px;color:#333;">4.94K</div><div class="t" style="left:-415px;width:1000px;text-align:right;top:695.7px;font-size:12.4px;color:#333;">0</div><div class="a" style="left:102px;top:747px;width:490px;height:1px;background:#e6e6e6;"></div><div class="t" style="left:108px;top:726.7px;font-size:12.4px;color:#333;">EBIT Plan Value</div><div class="t" style="left:236px;top:727.9px;font-size:12px;color:#555;">120M</div><div class="t" style="left:349px;top:727.9px;font-size:12px;color:#555;">52M</div><div class="t" style="left:-512px;width:1000px;text-align:right;top:726.7px;font-size:12.4px;color:#333;">182M</div><div class="t" style="left:-415px;width:1000px;text-align:right;top:726.7px;font-size:12.4px;color:#333;">182M</div><div class="a" style="left:102px;top:778px;width:490px;height:1px;background:#e6e6e6;"></div><div class="t" style="left:108px;top:757.7px;font-size:12.4px;color:#333;">Eigenkapital</div><div class="t" style="left:236px;top:758.9px;font-size:12px;color:#555;">89M</div><div class="t" style="left:349px;top:758.9px;font-size:12px;color:#555;">150M</div><div class="t" style="left:-512px;width:1000px;text-align:right;top:757.7px;font-size:12.4px;color:#333;">239M</div><div class="t" style="left:-415px;width:1000px;text-align:right;top:757.7px;font-size:12.4px;color:#333;">239M</div><div class="a" style="left:102px;top:809px;width:490px;height:1px;background:#e6e6e6;"></div><div class="t" style="left:108px;top:788.7px;font-size:12.4px;color:#333;">Employer Image</div><div class="t" style="left:236px;top:789.9px;font-size:12px;color:#555;">0</div><div class="t" style="left:349px;top:789.9px;font-size:12px;color:#555;">0</div><div class="t" style="left:-512px;width:1000px;text-align:right;top:788.7px;font-size:12.4px;color:#333;">399K</div><div class="t" style="left:-415px;width:1000px;text-align:right;top:788.7px;font-size:12.4px;color:#333;">2M</div><div class="a" style="left:102px;top:840px;width:490px;height:1px;background:#e6e6e6;"></div><div class="t" style="left:108px;top:819.7px;font-size:12.4px;color:#333;">Gewinn (vor Steuer...</div><div class="t" style="left:236px;top:820.9px;font-size:12px;color:#555;">0</div><div class="t" style="left:349px;top:820.9px;font-size:12px;color:#555;">0</div><div class="t" style="left:-512px;width:1000px;text-align:right;top:819.7px;font-size:12.4px;color:#333;">0</div><div class="t" style="left:-415px;width:1000px;text-align:right;top:819.7px;font-size:12.4px;color:#333;">0</div><div class="a" style="left:102px;top:871px;width:490px;height:1px;background:#e6e6e6;"></div><div class="t" style="left:108px;top:850.7px;font-size:12.4px;color:#333;">Informationssicher...</div><div class="t" style="left:236px;top:851.9px;font-size:12px;color:#555;">0</div><div class="t" style="left:349px;top:851.9px;font-size:12px;color:#555;">0</div><div class="t" style="left:-512px;width:1000px;text-align:right;top:850.7px;font-size:12.4px;color:#333;">0</div><div class="t" style="left:-415px;width:1000px;text-align:right;top:850.7px;font-size:12.4px;color:#333;">0</div><div class="a" style="left:102px;top:902px;width:490px;height:1px;background:#e6e6e6;"></div><div class="t" style="left:108px;top:881.7px;font-size:12.4px;color:#333;">Instandhaltung Ma...</div><div class="t" style="left:236px;top:882.9px;font-size:12px;color:#555;">0</div><div class="t" style="left:349px;top:882.9px;font-size:12px;color:#555;">-866K</div><div class="t" style="left:-512px;width:1000px;text-align:right;top:881.7px;font-size:12.4px;color:#333;">-866K</div><div class="t" style="left:-415px;width:1000px;text-align:right;top:881.7px;font-size:12.4px;color:#333;">-866K</div><div class="a" style="left:102px;top:933px;width:490px;height:1px;background:#e6e6e6;"></div><div class="t" style="left:108px;top:912.7px;font-size:12.4px;color:#333;">IT Failure</div><div class="t" style="left:236px;top:913.9px;font-size:12px;color:#555;">0</div><div class="t" style="left:349px;top:913.9px;font-size:12px;color:#555;">0</div><div class="t" style="left:-512px;width:1000px;text-align:right;top:912.7px;font-size:12.4px;color:#333;">0</div><div class="t" style="left:-415px;width:1000px;text-align:right;top:912.7px;font-size:12.4px;color:#333;">0</div><svg style="left:0;top:0" width="1920" height="969"><polyline points="239,572 265.5,581 292.5,581 319,581 345.5,581" fill="none" stroke="#666" stroke-width="1.6"/><circle cx="239" cy="572" r="2" fill="#fff" stroke="#666" stroke-width="1.2"/><circle cx="345.5" cy="581" r="2" fill="#fff" stroke="#666" stroke-width="1.2"/><polyline points="239,612 265.5,612 292.5,612 319,612 345.5,603" fill="none" stroke="#666" stroke-width="1.6"/><circle cx="239" cy="612" r="2" fill="#fff" stroke="#666" stroke-width="1.2"/><circle cx="345.5" cy="603" r="2" fill="#fff" stroke="#666" stroke-width="1.2"/><polyline points="239,634 265.5,634 292.5,634 319,634 345.5,643" fill="none" stroke="#666" stroke-width="1.6"/><circle cx="239" cy="634" r="2" fill="#fff" stroke="#666" stroke-width="1.2"/><circle cx="345.5" cy="643" r="2" fill="#fff" stroke="#666" stroke-width="1.2"/><polyline points="239,676 265.5,676 292.5,676 319,676 345.5,676" fill="none" stroke="#666" stroke-width="1.6"/><circle cx="239" cy="676" r="2" fill="#fff" stroke="#666" stroke-width="1.2"/><circle cx="345.5" cy="676" r="2" fill="#fff" stroke="#666" stroke-width="1.2"/><polyline points="239,705 265.5,705 292.5,696 319,705 345.5,705" fill="none" stroke="#666" stroke-width="1.6"/><circle cx="239" cy="705" r="2" fill="#fff" stroke="#666" stroke-width="1.2"/><circle cx="345.5" cy="705" r="2" fill="#fff" stroke="#666" stroke-width="1.2"/><polyline points="239,730.6 265.5,729 292.5,727 319,727 345.5,736.5" fill="none" stroke="#666" stroke-width="1.6"/><circle cx="239" cy="730.6" r="2" fill="#fff" stroke="#666" stroke-width="1.2"/><circle cx="345.5" cy="736.5" r="2" fill="#fff" stroke="#666" stroke-width="1.2"/><polyline points="239,767.8 265.5,758.5 292.5,758.5 319,758.5 345.5,763.8" fill="none" stroke="#666" stroke-width="1.6"/><circle cx="239" cy="767.8" r="2" fill="#fff" stroke="#666" stroke-width="1.2"/><circle cx="345.5" cy="763.8" r="2" fill="#fff" stroke="#666" stroke-width="1.2"/><polyline points="239,798 265.5,798 292.5,789 319,798 345.5,798" fill="none" stroke="#666" stroke-width="1.6"/><circle cx="239" cy="798" r="2" fill="#fff" stroke="#666" stroke-width="1.2"/><circle cx="345.5" cy="798" r="2" fill="#fff" stroke="#666" stroke-width="1.2"/><polyline points="239,831 265.5,831 292.5,831 319,831 345.5,831" fill="none" stroke="#666" stroke-width="1.6"/><circle cx="239" cy="831" r="2" fill="#fff" stroke="#666" stroke-width="1.2"/><circle cx="345.5" cy="831" r="2" fill="#fff" stroke="#666" stroke-width="1.2"/><polyline points="239,862 265.5,862 292.5,862 319,862 345.5,862" fill="none" stroke="#666" stroke-width="1.6"/><circle cx="239" cy="862" r="2" fill="#fff" stroke="#666" stroke-width="1.2"/><circle cx="345.5" cy="862" r="2" fill="#fff" stroke="#666" stroke-width="1.2"/><polyline points="239,886.8 265.5,882 292.5,891.3 319,891.3 345.5,891.3" fill="none" stroke="#666" stroke-width="1.6"/><circle cx="239" cy="886.8" r="2" fill="#fff" stroke="#666" stroke-width="1.2"/><circle cx="345.5" cy="891.3" r="2" fill="#fff" stroke="#666" stroke-width="1.2"/><polyline points="239,924 265.5,924 292.5,924 319,924 345.5,924" fill="none" stroke="#666" stroke-width="1.6"/><circle cx="239" cy="924" r="2" fill="#fff" stroke="#666" stroke-width="1.2"/><circle cx="345.5" cy="924" r="2" fill="#fff" stroke="#666" stroke-width="1.2"/></svg><div class="a" style="left:599px;top:530px;width:499px;height:411px;border:1px solid #dcdcdc"></div><div class="a" style="left:600px;top:560px;width:497px;height:2px;background:#e2e2e2;"></div><div class="t" style="left:606px;top:540.7px;font-size:12.4px;color:#9a9a9a;">Risiko</div><svg style="left:923px;top:538px" width="8" height="15" viewBox="0 0 8 15"><path d="M4 0.5V13.5M1 10.5L4 14L7 10.5" fill="none" stroke="#9a9a9a" stroke-width="1.2"/></svg><div class="t" style="left:937px;top:540.7px;font-size:12.4px;color:#9a9a9a;">Erwartun...</div><div class="t" style="left:89px;width:1000px;text-align:right;top:540.7px;font-size:12.4px;color:#9a9a9a;">Value at Risk</div><div class="a" style="left:600px;top:562px;width:497px;height:378px;overflow:hidden"><div class="a" style="left:0px;top:29px;width:315px;height:1px;background:#e3e3e3;"></div><div class="a" style="left:315px;top:0px;width:90px;height:30px;background:#fdd9df;"></div><div class="a" style="left:405px;top:0px;width:91px;height:29px;background:#ff640f;"></div><div class="a" style="left:405px;top:29px;width:91px;height:1px;background:#fbd3c6;"></div><div class="t" style="left:6px;top:9.7px;font-size:12.4px;color:#3f6fa3;">Personalrisiko Technologie Bereich</div><div class="t" style="left:-601px;width:1000px;text-align:right;top:9.7px;font-size:12.4px;color:#333;">28.3M</div><div class="t" style="left:-511px;width:1000px;text-align:right;top:9.7px;font-size:12.4px;color:#fff;">42.8M</div><div class="a" style="left:0px;top:59px;width:315px;height:1px;background:#e3e3e3;"></div><div class="a" style="left:315px;top:30px;width:90px;height:30px;background:#fdd9df;"></div><div class="a" style="left:405px;top:30px;width:91px;height:29px;background:#e03a4f;"></div><div class="a" style="left:405px;top:59px;width:91px;height:1px;background:#fbd3c6;"></div><div class="t" style="left:6px;top:39.7px;font-size:12.4px;color:#3f6fa3;">Rufschädigung aufgrund des Fehlverhaltens einzelne...</div><div class="t" style="left:-601px;width:1000px;text-align:right;top:39.7px;font-size:12.4px;color:#333;">22.6M</div><div class="t" style="left:-511px;width:1000px;text-align:right;top:39.7px;font-size:12.4px;color:#fff;">78M</div><div class="a" style="left:0px;top:89px;width:315px;height:1px;background:#e3e3e3;"></div><div class="a" style="left:315px;top:60px;width:90px;height:30px;background:#ceeda9;"></div><div class="a" style="left:405px;top:60px;width:91px;height:29px;background:#62ac50;"></div><div class="a" style="left:405px;top:89px;width:91px;height:1px;background:#d9f0c4;"></div><div class="a" style="left:3px;top:69px;width:212px;height:16px;background:linear-gradient(90deg,#e8ecf3,#dfe6ef 30%,#e5eaf2 60%,#dde4ee 80%,#f1f4f8);filter:blur(1.5px);"></div><div class="t" style="left:-601px;width:1000px;text-align:right;top:69.7px;font-size:12.4px;color:#333;">2.45M</div><div class="t" style="left:-511px;width:1000px;text-align:right;top:69.7px;font-size:12.4px;color:#fff;">7M</div><div class="a" style="left:0px;top:119px;width:315px;height:1px;background:#e3e3e3;"></div><div class="a" style="left:315px;top:90px;width:90px;height:30px;background:#ceeda9;"></div><div class="a" style="left:405px;top:90px;width:91px;height:29px;background:#62ac50;"></div><div class="a" style="left:405px;top:119px;width:91px;height:1px;background:#d9f0c4;"></div><div class="a" style="left:3px;top:97px;width:120px;height:16px;background:linear-gradient(90deg,#e8ecf3,#dfe6ef 30%,#e5eaf2 60%,#dde4ee 80%,#f1f4f8);filter:blur(1.5px);"></div><div class="t" style="left:-601px;width:1000px;text-align:right;top:99.7px;font-size:12.4px;color:#333;">1.99M</div><div class="t" style="left:-511px;width:1000px;text-align:right;top:99.7px;font-size:12.4px;color:#fff;">5M</div><div class="a" style="left:0px;top:149px;width:315px;height:1px;background:#e3e3e3;"></div><div class="a" style="left:315px;top:120px;width:90px;height:30px;background:#ceeda9;"></div><div class="a" style="left:405px;top:120px;width:91px;height:29px;background:#62ac50;"></div><div class="a" style="left:405px;top:149px;width:91px;height:1px;background:#d9f0c4;"></div><div class="t" style="left:6px;top:129.7px;font-size:12.4px;color:#3f6fa3;">Ausfall des Handelsplatzes</div><div class="t" style="left:-601px;width:1000px;text-align:right;top:129.7px;font-size:12.4px;color:#333;">1.5M</div><div class="t" style="left:-511px;width:1000px;text-align:right;top:129.7px;font-size:12.4px;color:#fff;">4.6M</div><div class="a" style="left:0px;top:179px;width:315px;height:1px;background:#e3e3e3;"></div><div class="a" style="left:315px;top:150px;width:90px;height:30px;background:#ceeda9;"></div><div class="a" style="left:405px;top:150px;width:91px;height:29px;background:#62ac50;"></div><div class="a" style="left:405px;top:179px;width:91px;height:1px;background:#d9f0c4;"></div><div class="t" style="left:6px;top:159.7px;font-size:12.4px;color:#3f6fa3;">Gesamt IT Risiko</div><div class="t" style="left:-601px;width:1000px;text-align:right;top:159.7px;font-size:12.4px;color:#333;">1.5M</div><div class="t" style="left:-511px;width:1000px;text-align:right;top:159.7px;font-size:12.4px;color:#fff;">3.52M</div><div class="a" style="left:0px;top:209px;width:315px;height:1px;background:#e3e3e3;"></div><div class="a" style="left:315px;top:180px;width:90px;height:30px;background:#ceeda9;"></div><div class="a" style="left:405px;top:180px;width:91px;height:29px;background:#62ac50;"></div><div class="a" style="left:405px;top:209px;width:91px;height:1px;background:#d9f0c4;"></div><div class="t" style="left:6px;top:189.7px;font-size:12.4px;color:#3f6fa3;">Personalrisiko Einkauf</div><div class="t" style="left:-601px;width:1000px;text-align:right;top:189.7px;font-size:12.4px;color:#333;">1.09M</div><div class="t" style="left:-511px;width:1000px;text-align:right;top:189.7px;font-size:12.4px;color:#fff;">10.7M</div><div class="a" style="left:0px;top:239px;width:315px;height:1px;background:#e3e3e3;"></div><div class="a" style="left:315px;top:210px;width:90px;height:30px;background:#ceeda9;"></div><div class="a" style="left:405px;top:210px;width:91px;height:29px;background:#62ac50;"></div><div class="a" style="left:405px;top:239px;width:91px;height:1px;background:#d9f0c4;"></div><div class="t" style="left:6px;top:219.7px;font-size:12.4px;color:#3f6fa3;">4 eyes principle</div><div class="a" style="left:94px;top:213px;width:215px;height:22px;background:linear-gradient(90deg,#e8ecf3,#dfe6ef 30%,#e5eaf2 60%,#dde4ee 80%,#f1f4f8);filter:blur(1.5px);"></div><div class="t" style="left:-601px;width:1000px;text-align:right;top:219.7px;font-size:12.4px;color:#333;">797K</div><div class="t" style="left:-511px;width:1000px;text-align:right;top:219.7px;font-size:12.4px;color:#fff;">4M</div><div class="a" style="left:0px;top:269px;width:315px;height:1px;background:#e3e3e3;"></div><div class="a" style="left:315px;top:240px;width:90px;height:30px;background:#ceeda9;"></div><div class="a" style="left:405px;top:240px;width:91px;height:29px;background:#62ac50;"></div><div class="a" style="left:405px;top:269px;width:91px;height:1px;background:#d9f0c4;"></div><div class="t" style="left:6px;top:249.7px;font-size:12.4px;color:#3f6fa3;">Kürzung von staatlichen Mitteln</div><div class="t" style="left:-601px;width:1000px;text-align:right;top:249.7px;font-size:12.4px;color:#333;">703K</div><div class="t" style="left:-511px;width:1000px;text-align:right;top:249.7px;font-size:12.4px;color:#fff;">3.95M</div><div class="a" style="left:0px;top:299px;width:315px;height:1px;background:#e3e3e3;"></div><div class="a" style="left:315px;top:270px;width:90px;height:30px;background:#ceeda9;"></div><div class="a" style="left:405px;top:270px;width:91px;height:29px;background:#62ac50;"></div><div class="a" style="left:405px;top:299px;width:91px;height:1px;background:#d9f0c4;"></div><div class="t" style="left:6px;top:279.7px;font-size:12.4px;color:#3f6fa3;">Marken- und Produktpiraterie</div><div class="t" style="left:-601px;width:1000px;text-align:right;top:279.7px;font-size:12.4px;color:#333;">692K</div><div class="t" style="left:-511px;width:1000px;text-align:right;top:279.7px;font-size:12.4px;color:#fff;">3.63M</div><div class="a" style="left:0px;top:329px;width:315px;height:1px;background:#e3e3e3;"></div><div class="a" style="left:315px;top:300px;width:90px;height:30px;background:#ceeda9;"></div><div class="a" style="left:405px;top:300px;width:91px;height:29px;background:#62ac50;"></div><div class="a" style="left:405px;top:329px;width:91px;height:1px;background:#d9f0c4;"></div><div class="a" style="left:3px;top:302px;width:303px;height:24px;background:linear-gradient(90deg,#e8ecf3,#dfe6ef 30%,#e5eaf2 60%,#dde4ee 80%,#f1f4f8);filter:blur(1.5px);"></div><div class="t" style="left:-601px;width:1000px;text-align:right;top:309.7px;font-size:12.4px;color:#333;">398K</div><div class="t" style="left:-511px;width:1000px;text-align:right;top:309.7px;font-size:12.4px;color:#fff;">2M</div><div class="a" style="left:0px;top:359px;width:315px;height:1px;background:#e3e3e3;"></div><div class="a" style="left:315px;top:330px;width:90px;height:30px;background:#ceeda9;"></div><div class="a" style="left:405px;top:330px;width:91px;height:29px;background:#62ac50;"></div><div class="a" style="left:405px;top:359px;width:91px;height:1px;background:#d9f0c4;"></div><div class="t" style="left:6px;top:339.7px;font-size:12.4px;color:#3f6fa3;">Compliancevorfall</div><div class="t" style="left:-601px;width:1000px;text-align:right;top:339.7px;font-size:12.4px;color:#333;">379K</div><div class="t" style="left:-511px;width:1000px;text-align:right;top:339.7px;font-size:12.4px;color:#fff;">3.44M</div><div class="a" style="left:0px;top:389px;width:315px;height:1px;background:#e3e3e3;"></div><div class="a" style="left:315px;top:360px;width:90px;height:30px;background:#ceeda9;"></div><div class="a" style="left:405px;top:360px;width:91px;height:29px;background:#62ac50;"></div><div class="a" style="left:405px;top:389px;width:91px;height:1px;background:#d9f0c4;"></div><div class="t" style="left:6px;top:369.7px;font-size:12.4px;color:#3f6fa3;">Personalrisiko Finanzen</div><div class="t" style="left:-601px;width:1000px;text-align:right;top:369.7px;font-size:12.4px;color:#333;">370K</div><div class="t" style="left:-511px;width:1000px;text-align:right;top:369.7px;font-size:12.4px;color:#fff;">3.36M</div></div><div class="a" style="left:1126px;top:529px;width:318px;height:411px;border:1px solid #dcdcdc"></div><div class="t" style="left:779.5px;width:1000px;text-align:center;top:631.3px;font-size:15.3px;color:#444;">Aufgaben nach Status</div><svg style="left:0;top:0" width="1920" height="969"><path d="M1279.5 749.6L1326.20 749.60A46.7 46.7 0 0 0 1293.93 705.19Z" fill="#00f5c8"/><path d="M1279.5 749.6L1293.93 705.19A46.7 46.7 0 1 0 1326.20 749.60Z" fill="#fb8e17"/><polyline points="1206,793 1221,793 1242,778.5" fill="none" stroke="#fb8e17" stroke-width="1"/><polyline points="1317,723 1330,712 1372,712" fill="none" stroke="#00f5c8" stroke-width="1"/></svg><div class="a" style="left:1132px;top:781px;width:74px;height:23px;background:#fb8e17;"></div><div class="t" style="left:1140px;top:789.3px;font-size:10.2px;color:#fff;">Neu: 80.00%</div><div class="a" style="left:1373px;top:695px;width:54px;height:34px;background:#00f0c6;"></div><div class="t" style="left:1380px;top:703.1px;font-size:10.2px;color:#fff;">Erledigt:</div><div class="t" style="left:1380px;top:713.6px;font-size:10.2px;color:#fff;">20.00%</div><div class="a" style="left:1450px;top:529px;width:427px;height:411px;border:1px solid #dcdcdc"></div><div class="a" style="left:1451px;top:559px;width:425px;height:2px;background:#e2e2e2;"></div><div class="t" style="left:1457px;top:539.7px;font-size:12.4px;color:#9a9a9a;">Name</div><div class="t" style="left:1708px;top:539.7px;font-size:12.4px;color:#9a9a9a;">Due Date</div><div class="t" style="left:1795px;top:539.7px;font-size:12.4px;color:#9a9a9a;">Status</div><div class="t" style="left:1457px;top:571.7px;font-size:12.4px;color:#3f6fa3;">Brandschottungen kontrollieren</div><div class="t" style="left:1708px;top:571.7px;font-size:12.4px;color:#333;">9/18/2017</div><div class="t" style="left:1795px;top:571.7px;font-size:12.4px;color:#333;">Neu</div><div class="t" style="left:1457px;top:601.7px;font-size:12.4px;color:#3f6fa3;">Failover-Tests durchführen</div><div class="t" style="left:1708px;top:601.7px;font-size:12.4px;color:#333;">3/9/2018</div><div class="t" style="left:1795px;top:601.7px;font-size:12.4px;color:#333;">Neu</div><div class="t" style="left:1457px;top:631.7px;font-size:12.4px;color:#3f6fa3;">Risikobewertung für Risikobericht 2020</div><div class="t" style="left:1708px;top:631.7px;font-size:12.4px;color:#333;">10/30/2020</div><div class="t" style="left:1795px;top:631.7px;font-size:12.4px;color:#333;">Neu</div><div class="t" style="left:1457px;top:661.7px;font-size:12.4px;color:#3f6fa3;">Risikobewertung Markt und Märkte</div><div class="t" style="left:1708px;top:661.7px;font-size:12.4px;color:#333;">9/25/2020</div><div class="t" style="left:1795px;top:661.7px;font-size:12.4px;color:#333;">Erledigt</div><svg style="left:1855px;top:661px" width="14" height="12" viewBox="0 0 14 12"><path d="M1 6.5L5 10L13 1.5" fill="none" stroke="#6cbf44" stroke-width="2.4"/></svg><div class="a" style="left:1451px;top:897px;width:425px;height:1px;background:#dedede;"></div><div class="t" style="left:1457px;top:913.7px;font-size:12.4px;color:#555;font-weight:bold;">Count = 4</div></body></html>
